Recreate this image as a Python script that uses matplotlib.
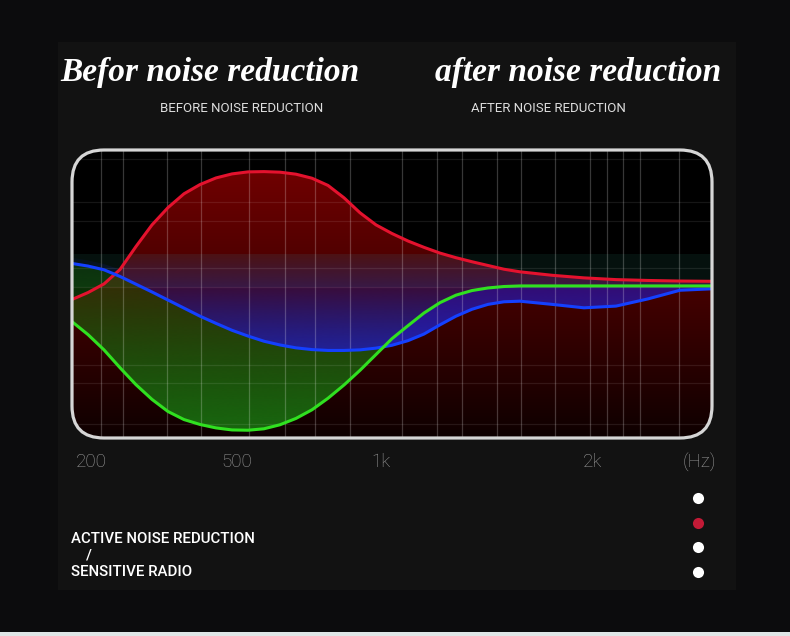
# noise reduction curves, before / after

import numpy as np
import matplotlib
matplotlib.use("Agg")
import matplotlib.pyplot as plt
from matplotlib.patches import FancyBboxPatch, Polygon, Rectangle
from matplotlib.path import Path

# curve values (percent of panel height)
x = [0, 2.5, 5, 7.5, 10, 12.5, 15, 17.5, 20, 22.5, 25, 27.5, 30, 32.5, 35, 37.5,
     40, 42.5, 45, 47.5, 50, 52.5, 55, 57.5, 60, 62.5, 65, 67.5, 70, 75, 80, 85,
     90, 95, 100]
red = [48.1, 50.5, 53.5, 58.5, 66.5, 74.0, 80.0, 84.8, 88.0, 90.3, 91.7, 92.4,
       92.5, 92.3, 91.6, 90.2, 87.7, 83.4, 78.2, 74.0, 71.0, 68.4, 66.2, 64.2,
       62.6, 61.2, 59.9, 58.6, 57.7, 56.5, 55.6, 55.0, 54.7, 54.5, 54.4]
green = [40.4, 35.9, 30.6, 24.4, 18.5, 13.4, 9.2, 6.4, 4.7, 3.5, 2.8, 2.7, 3.2,
         4.6, 6.8, 9.8, 13.8, 18.4, 23.5, 29.0, 34.5, 39.0, 43.4, 47.0, 49.6,
         51.2, 52.1, 52.6, 52.8, 52.8, 52.8, 52.8, 52.8, 52.8, 52.8]
blue = [60.6, 59.7, 58.4, 56.1, 53.4, 50.7, 47.9, 45.1, 42.3, 39.8, 37.4, 35.4,
        33.6, 32.3, 31.3, 30.7, 30.4, 30.4, 30.6, 31.2, 32.2, 33.8, 36.1, 39.3,
        42.3, 44.7, 46.4, 47.3, 47.5, 46.4, 45.2, 45.8, 48.3, 51.3, 51.8]

tick_pos = [3.0, 25.8, 48.3, 81.3, 98.1]
tick_labels = ["200", "500", "1k", "2k", "(Hz)"]
grid_x = [4.5, 8.0, 14.8, 20.2, 27.7, 33.3, 38.0, 43.4, 51.5, 57.0, 60.9, 66.4,
          70.1, 75.4, 80.9, 83.6, 86.1, 88.7, 94.9]
grid_y = [97, 82, 75.5, 59, 52.5, 25.5, 19, 5]

dot_colors = ["white", "#c21a36", "white", "white"]

W, H = 790, 636
x = np.array(x)
red = np.array(red)
green = np.array(green)
blue = np.array(blue)

fig = plt.figure(figsize=(W / 100, H / 100), dpi=100)
fig.patch.set_facecolor("#0c0c0d")

# background overlay in pixel coords
bg = fig.add_axes([0, 0, 1, 1], zorder=-1)
bg.set_xlim(0, W)
bg.set_ylim(H, 0)
bg.axis("off")
bg.add_patch(Rectangle((58, 42), 678, 548, color="#121212", lw=0))
bg.add_patch(Rectangle((0, 632), W, 4, color="#dfe6e6", lw=0))

serif = dict(family="Liberation Serif", weight="bold", style="italic",
             color="white", fontsize=24)
bg.text(210, 72, "Befor noise reduction", ha="center", va="center", **serif)
bg.text(578, 72, "after noise reduction", ha="center", va="center", **serif)
thin = ["Roboto", "DejaVu Sans"]
bg.text(242, 109, "BEFORE NOISE REDUCTION", ha="center", va="center",
        family=thin, fontsize=9.5, color="#dddddd")
bg.text(548, 109, "AFTER NOISE REDUCTION", ha="center", va="center",
        family=thin, fontsize=9.5, color="#dddddd")
side = dict(family=thin, fontsize=10.8, weight="medium", color="white",
            ha="left", va="center")
bg.text(71, 539, "ACTIVE NOISE REDUCTION", **side)
bg.text(86, 555, "/", **side)
bg.text(71, 572, "SENSITIVE RADIO", **side)
for i, c in enumerate(dot_colors):
    bg.plot(698, 498 + i * 24.5, "o", color=c, ms=8, mec="none")

# main panel
x0, y0, pw, ph = 72, H - 438, 640, 288
ax = fig.add_axes([x0 / W, y0 / H, pw / W, ph / H])
ax.set_facecolor("black")
for s in ax.spines.values():
    s.set_visible(False)

t = np.linspace(0, 1, 256)

# red area with vertical gradient
grad = np.zeros((256, 1, 4))
grad[:, 0, 0] = (14 + (112 - 14) * t) / 255
grad[:, 0, 3] = 1
red_poly = ax.fill_between(x, 0, red, color="none", lw=0)
im = ax.imshow(grad, extent=[0, 100, 0, 93], origin="lower", aspect="auto",
               interpolation="bicubic", zorder=1)
im.set_clip_path(red_poly.get_paths()[0], transform=ax.transData)

# faint teal band
ax.axhspan(52.5, 64, color="#40c0a0", alpha=0.09, lw=0, zorder=1.5)

# green area between green and blue
ggrad = np.zeros((256, 1, 4))
ggrad[:, 0, 0] = 26 / 255
ggrad[:, 0, 1] = 112 / 255
ggrad[:, 0, 2] = 16 / 255
ggrad[:, 0, 3] = 0.95 - 0.6 * t
g_poly = ax.fill_between(x, green, blue, where=green < blue, interpolate=True,
                         color="none", lw=0)
gim = ax.imshow(ggrad, extent=[0, 100, 0, 60], origin="lower", aspect="auto",
                interpolation="bicubic", zorder=2)
gim.set_clip_path(Path.make_compound_path(*g_poly.get_paths()),
                  transform=ax.transData)

# indigo between blue and green on the right
ax.fill_between(x, blue, green, where=green > blue, interpolate=True,
                color="#3000b8", alpha=0.45, lw=0, zorder=2.2)

# blue area above the blue line, fading upward (kept under the red line on the right)
top = np.minimum(64, np.maximum(red, blue + 2))
bgrad = np.zeros((256, 1, 4))
bgrad[:, 0, 0] = 30 / 255
bgrad[:, 0, 1] = 44 / 255
bgrad[:, 0, 2] = 200 / 255
bgrad[:, 0, 3] = np.clip(0.8 - 0.8 * t ** 1.1, 0, 1)
b_poly = ax.fill_between(x, blue, top, color="none", lw=0)
bim = ax.imshow(bgrad, extent=[0, 100, 28, 65], origin="lower", aspect="auto",
                interpolation="bicubic", zorder=2.5)
bim.set_clip_path(b_poly.get_paths()[0], transform=ax.transData)

# grid
ax.vlines(grid_x, 0, 100, color="white", alpha=0.22, lw=0.9, zorder=3)
ax.hlines(grid_y, 0, 100, color="white", alpha=0.09, lw=0.9, zorder=3)

ax.plot(x, red, color="#e4122e", lw=2.2, zorder=4, solid_joinstyle="round")
ax.plot(x, blue, color="#1440ff", lw=2.2, zorder=4, solid_joinstyle="round")
ax.plot(x, green, color="#30e020", lw=2.2, zorder=4.5, solid_joinstyle="round")

ax.set_xlim(0, 100)
ax.set_ylim(0, 100)
ax.set_yticks([])
ax.set_xticks(tick_pos, tick_labels)
ax.tick_params(axis="x", length=0, pad=11, labelcolor="#9c9c9c", labelsize=13.5)
for lab in ax.get_xticklabels():
    lab.set_family(thin)
    lab.set_weight("light")

# rounded corners: cover the corners, then draw the frame
r = 0.32
bx0, by0, bx1, by1 = x0 / 100, y0 / 100, (x0 + pw) / 100, (y0 + ph) / 100
corners = [((bx0 + r, by1 - r), 90, (bx0 - 0.05, by1 + 0.05)),
           ((bx1 - r, by1 - r), 0, (bx1 + 0.05, by1 + 0.05)),
           ((bx0 + r, by0 + r), 180, (bx0 - 0.05, by0 - 0.05)),
           ((bx1 - r, by0 + r), 270, (bx1 + 0.05, by0 - 0.05))]
for (cx, cy), a0, corner in corners:
    ang = np.radians(np.linspace(a0, a0 + 90, 30))
    pts = np.column_stack([cx + r * np.cos(ang), cy + r * np.sin(ang)])
    pts = np.vstack([pts, corner])
    fig.add_artist(Polygon(pts, closed=True, color="#121212", lw=0,
                           transform=fig.dpi_scale_trans, zorder=3))
frame = FancyBboxPatch((bx0, by0), bx1 - bx0, by1 - by0,
                       boxstyle="round,pad=0,rounding_size=%s" % r,
                       fc="none", ec="#d6d6d6", lw=2.3,
                       transform=fig.dpi_scale_trans, zorder=4)
fig.add_artist(frame)

fig.savefig("out.png", dpi=100, facecolor=fig.get_facecolor())
